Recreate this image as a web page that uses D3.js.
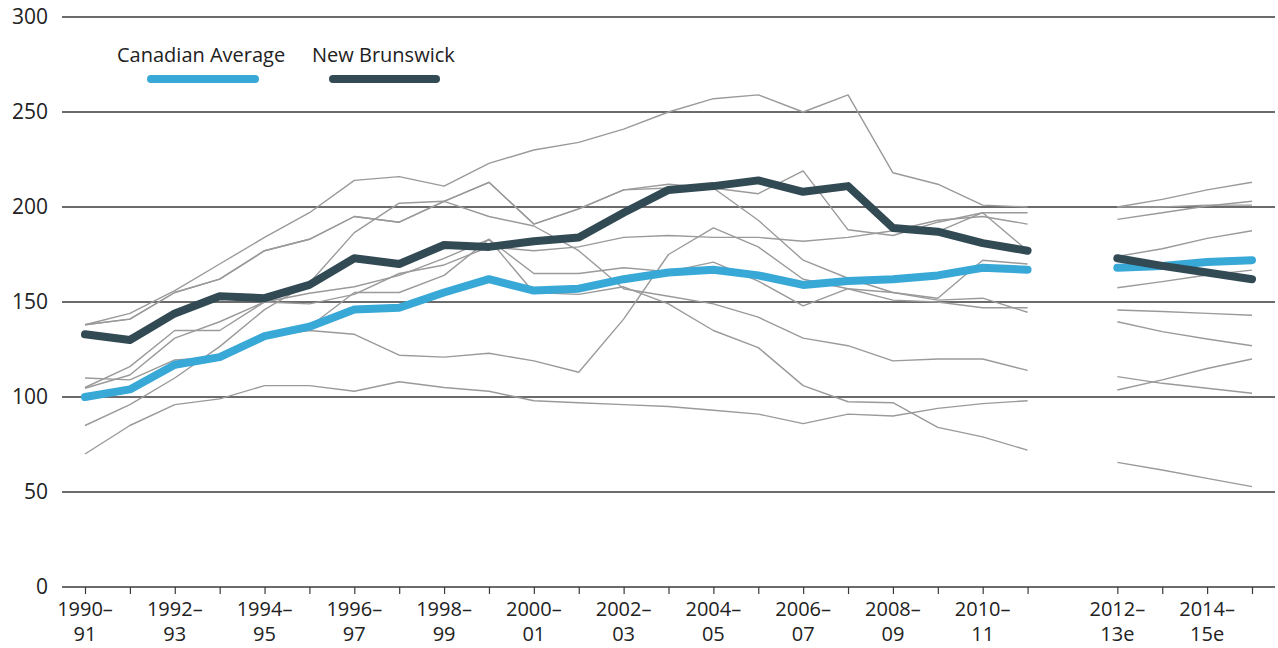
<!DOCTYPE html>
<html>
<head>
<meta charset="utf-8">
<script src="https://cdn.jsdelivr.net/npm/d3@7"></script>
<style>
  html, body { margin: 0; padding: 0; background: #fff; }
  svg { display: block; font-family: "Open Sans", "Noto Sans", sans-serif; }
</style>
</head>
<body>
<svg id="chart" width="1278" height="648"></svg>
<script>
// ---- DATA ----
// Periods (the blank "" slot is the gap between actuals and estimates)
const periods = ["1990–91","1991–92","1992–93","1993–94","1994–95","1995–96","1996–97","1997–98","1998–99","1999–00","2000–01","2001–02","2002–03","2003–04","2004–05","2005–06","2006–07","2007–08","2008–09","2009–10","2010–11","2011–12","","2012–13e","2013–14e","2014–15e","2015–16e"];
const labelledPeriods = ["1990–91","1992–93","1994–95","1996–97","1998–99","2000–01","2002–03","2004–05","2006–07","2008–09","2010–11","2012–13e","2014–15e"];
const yTicks = [0, 50, 100, 150, 200, 250, 300];

const canadianAverage = [100,104,117,121,132,137,146,147,155,162,156,157,162,165.5,167,164,159,161,162,164,168,167,null,168,169,171,172];
const newBrunswick    = [133,130,144,153,152,159,173,170,180,179,182,184,197,209,211,214,208,211,189,187,181,177,null,173,169,165.5,162];

const provA = [138,144,156,170,184,197,214,216,211,223,230,234,241,250,257,259,250,259,218,212,201,200,null,200,204,209,213];
const provB = [138,141,155,162,177,183,195,192,203,213,191,199,209,210,210,207,219,188,185,192,197,197,null,200,200,201,201];
const provC = [105,116,135,135,150,149,154,165,169.5,179,177,179,184,185,184,184,182,184,187.5,193,195,191,null,193.5,197,200.5,203];
const provD = [85,96,110,126.5,146,160,186.5,202,203,195,190,177,157,153,149,142,131,127,119,120,120,114,null,110.7,107.2,104.6,102];
const provE = [110,109,119.5,121,132,135,133,122,121,123,119,113,141,175,189,179,162,157,155,152,172,170,null,157.5,160.7,164.2,166.8];
const provF = [70,85,96,99,106,106,103,108,105,103,98,97,96,95,93,91,86,91,90,94,96.5,98,null,103.7,109,115,120];
const provG = [138,141,155,162,177,183,195,192,203,213,191,199,209,212,210,193,172,162.5,155,151,152,144.6,null,139.6,134.4,130.5,127];
const provH = [104.6,111.6,131,139.6,150,154.6,158,164,173,183,165,165,168,166,171,161,148,157,151,150,147,147,null,145.8,145,144,143];
const provK = [100,104,117,121,132,137,155,155,164,183,155,154,158,149,135,126,106,97.5,97,84,79,72,null,65.6,61.6,57.2,52.8];
const provX = [133,130,144,153,152,159,173,170,180,179,182,184,197,209,211,214,208,211,189,187,197,177,null,174,178,183.5,187.5];

const otherProvinces = [provA, provB, provC, provD, provE, provF, provG, provH, provK, provX];
const legendItems = [
  { name: "Canadian Average", values: canadianAverage, color: "#38a8d7" },
  { name: "New Brunswick", values: newBrunswick, color: "#324a54" }
];

// ---- CHART ----
const svg = d3.select("#chart");
const gridLeft = 62, gridRight = 1275;

const x = d3.scalePoint().domain(periods).range([85, 1252]);
const y = d3.scaleLinear().domain([0, 300]).range([587, 17]);

// gridlines
svg.append("g").selectAll("line")
  .data(yTicks.filter(d => d !== 0))
  .join("line")
  .attr("x1", gridLeft).attr("x2", gridRight)
  .attr("y1", d => y(d)).attr("y2", d => y(d))
  .attr("stroke", "#3a3a3a").attr("stroke-width", 1.3);

// y labels
svg.append("g").selectAll("text")
  .data(yTicks)
  .join("text")
  .attr("x", 48).attr("y", d => y(d))
  .attr("dy", "0.35em")
  .attr("text-anchor", "end")
  .attr("font-size", 21)
  .attr("fill", "#222")
  .text(d => d);

// x axis
const xAxis = d3.axisBottom(x)
  .tickValues(periods.filter(p => p !== ""))
  .tickSize(7)
  .tickFormat("");
const gx = svg.append("g").attr("transform", `translate(0,${y(0)})`).call(xAxis);
gx.select(".domain").remove();
gx.selectAll(".tick line").attr("stroke", "#3a3a3a").attr("stroke-width", 1.2);
svg.append("line")
  .attr("x1", gridLeft).attr("x2", gridRight)
  .attr("y1", y(0)).attr("y2", y(0))
  .attr("stroke", "#3a3a3a").attr("stroke-width", 1.3);

// x labels (two separate lines)
const labelsG = svg.append("g")
  .attr("text-anchor", "middle")
  .attr("font-size", 20)
  .attr("fill", "#222");
labelsG.selectAll("text.l1")
  .data(labelledPeriods)
  .join("text")
  .attr("class", "l1")
  .attr("x", d => x(d)).attr("y", 616)
  .text(d => d.split("–")[0] + "–");
labelsG.selectAll("text.l2")
  .data(labelledPeriods)
  .join("text")
  .attr("class", "l2")
  .attr("x", d => x(d)).attr("y", 641)
  .text(d => d.split("–")[1]);

// lines
const line = d3.line()
  .defined(d => d.v !== null)
  .x(d => x(d.p))
  .y(d => y(d.v));
const toPts = arr => arr.map((v, i) => ({ p: periods[i], v }));

svg.append("g").selectAll("path")
  .data(otherProvinces)
  .join("path")
  .attr("d", d => line(toPts(d)))
  .attr("fill", "none")
  .attr("stroke", "#9a9a9a")
  .attr("stroke-width", 1.4)
  .attr("stroke-linejoin", "round");

svg.append("g").selectAll("path")
  .data(legendItems)
  .join("path")
  .attr("d", d => line(toPts(d.values)))
  .attr("fill", "none")
  .attr("stroke", d => d.color)
  .attr("stroke-width", 8)
  .attr("stroke-linejoin", "round")
  .attr("stroke-linecap", "round");

// legend
const legendPos = [{ tx: 117, lx1: 151, lx2: 255 }, { tx: 312, lx1: 333, lx2: 436 }];
const lg = svg.append("g").selectAll("g")
  .data(legendItems)
  .join("g");
lg.append("text")
  .attr("x", (d, i) => legendPos[i].tx).attr("y", 62)
  .attr("font-size", 20)
  .attr("fill", "#222")
  .text(d => d.name);
lg.append("line")
  .attr("x1", (d, i) => legendPos[i].lx1).attr("x2", (d, i) => legendPos[i].lx2)
  .attr("y1", 79).attr("y2", 79)
  .attr("stroke", d => d.color)
  .attr("stroke-width", 8)
  .attr("stroke-linecap", "round");
</script>
</body>
</html>
